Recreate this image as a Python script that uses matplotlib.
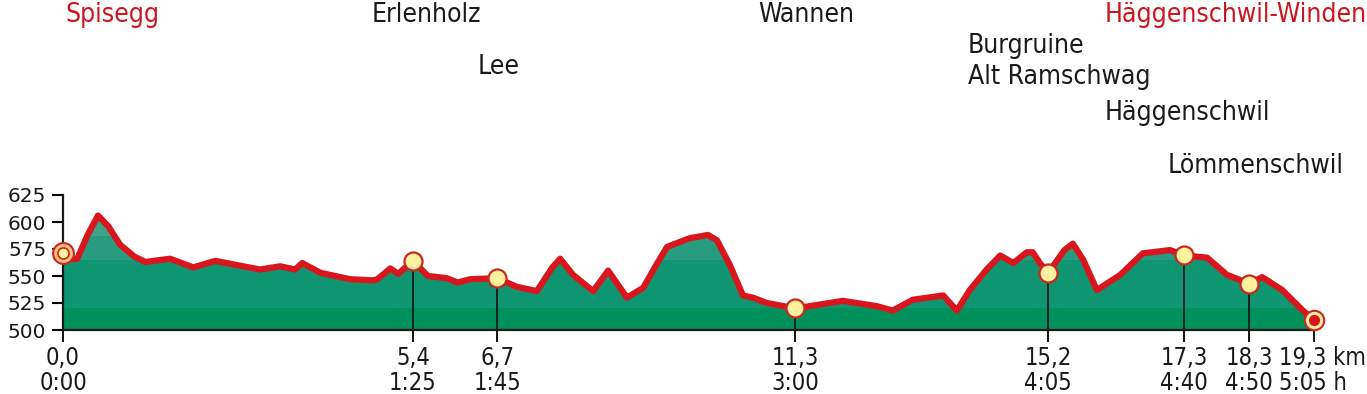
import matplotlib.pyplot as plt
import numpy as np
from matplotlib.patches import Polygon

# elevation profile (km, m)
km = [0.0, 0.22, 0.38, 0.54, 0.7, 0.88, 1.1, 1.27, 1.65, 2.01, 2.35, 3.04, 3.35, 3.58, 3.69, 3.97, 4.43,
      4.78, 4.85, 5.05, 5.17, 5.4, 5.63, 5.92, 6.09, 6.28, 6.7, 7.0, 7.31, 7.55, 7.67, 7.87,
      8.18, 8.41, 8.7, 8.95, 9.15, 9.32, 9.67, 9.95, 10.09, 10.29, 10.49, 10.64, 10.86, 11.3,
      11.72, 12.03, 12.56, 12.8, 13.11, 13.58, 13.79, 13.99, 14.25, 14.46, 14.66, 14.87, 14.96,
      15.07, 15.2, 15.45, 15.58, 15.74, 15.95, 16.31, 16.66, 17.08, 17.3, 17.65, 17.96, 18.3,
      18.5, 18.81, 19.13, 19.3]
elev = [565, 566, 588, 606, 596, 579, 568, 563, 566, 558, 564, 556, 559, 556, 562, 553, 547,
        546, 547, 557, 552, 564, 550, 548, 544, 547, 548, 540, 536, 558, 566, 551,
        536, 555, 530, 539, 560, 577, 585, 588, 583, 560, 532, 530, 525, 520,
        524, 527, 522, 518, 528, 532, 518, 537, 556, 569, 562, 572, 572,
        562, 553, 574, 580, 565, 537, 551, 571, 574, 569, 567, 551, 543,
        549, 537, 518, 509]

# waypoints
wp_km = [0.0, 5.4, 6.7, 11.3, 15.2, 17.3, 18.3, 19.3]
wp_elev = [571, 564, 548, 520, 553, 569, 543, 509]
wp_labels = ['0,0\n0:00', '5,4\n1:25', '6,7\n1:45', '11,3\n3:00', '15,2\n4:05',
             '17,3\n4:40', '18,3\n4:50', '19,3 km\n5:05 h']

yticks = [500, 525, 550, 575, 600, 625]

# place names: (text, x px, top px, colour)
places = [('Spisegg', 65, 2, '#d0141e'), ('Erlenholz', 372, 2, '#1a1a1a'),
          ('Lee', 478, 54, '#1a1a1a'), ('Wannen', 758, 2, '#1a1a1a'),
          ('Häggenschwil-Winden', 1105, 2, '#d0141e'), ('Burgruine', 968, 33, '#1a1a1a'),
          ('Alt Ramschwag', 968, 64, '#1a1a1a'), ('Häggenschwil', 1105, 100, '#1a1a1a'),
          ('Lömmenschwil', 1168, 153, '#1a1a1a')]

W, H = 1367, 394
fonts = ['DejaVu Sans']
cond = 'condensed'
fig = plt.figure(figsize=(W / 100, H / 100), dpi=100)
ax = fig.add_axes([63 / W, 64 / H, 1251 / W, 135 / H])
ax.set_xlim(0, 19.3)
ax.set_ylim(500, 625)

# banded green fill clipped to the profile
poly = Polygon(list(zip(km, elev)) + [(19.3, 500), (0, 500)], closed=True,
               facecolor='none', edgecolor='none')
ax.add_patch(poly)
bands = [(500, 520, '#00905c'), (520, 565, '#0f9670'), (565, 587, '#279c7c'), (587, 625, '#3fa38a')]
for lo, hi, c in bands:
    b = ax.fill_between([0, 19.3], lo, hi, color=c, lw=0)
    b.set_clip_path(poly)

ax.plot(km, elev, color='#d9151e', lw=4.5, solid_capstyle='round', solid_joinstyle='round', zorder=3)

# drop lines
for x, y in zip(wp_km[1:-1], wp_elev[1:-1]):
    ax.plot([x, x], [500, y], color='#1a1a1a', lw=1.3, zorder=2)

ax.plot(wp_km[1:-1], wp_elev[1:-1], 'o', ms=13, mfc='#fff1a0', mec='#c8281e', mew=1.6, zorder=5)
# start marker
ax.plot(wp_km[0], wp_elev[0], 'o', ms=15, mfc='#f9c27e', mec='#c8281e', mew=1.5, zorder=5, clip_on=False)
ax.plot(wp_km[0], wp_elev[0], 'o', ms=8, mfc='#fff1a0', mec='#c8281e', mew=1.2, zorder=6, clip_on=False)
# end marker
ax.plot(wp_km[-1], wp_elev[-1], 'o', ms=14, mfc='#fde9a0', mec='#c8281e', mew=1.5, zorder=5, clip_on=False)
ax.plot(wp_km[-1], wp_elev[-1], 'o', ms=7, mfc='#d7141c', mec='#d7141c', zorder=6, clip_on=False)

for s in ['top', 'right']:
    ax.spines[s].set_visible(False)
for s in ['left', 'bottom']:
    ax.spines[s].set_linewidth(1.6)
    ax.spines[s].set_color('#1a1a1a')

ax.set_yticks(yticks)
ax.set_yticklabels([str(v) for v in yticks], fontfamily=fonts, fontsize=14.5, color='#1a1a1a')
ax.tick_params(axis='y', direction='out', length=8, width=1.5, pad=4)

ax.set_xticks(wp_km)
ax.set_xticklabels(wp_labels[:-1] + [''], fontfamily=fonts, fontstretch=cond, fontsize=17,
                   color='#1a1a1a', linespacing=1.05)
ax.tick_params(axis='x', direction='out', length=8.6, width=1.3, pad=3)
ax.annotate(wp_labels[-1], xy=(19.3, 500), xytext=(-25, -8.6 - 3), textcoords='offset points',
            ha='left', va='top', fontfamily=fonts, fontstretch=cond, fontsize=17,
            color='#1a1a1a', linespacing=1.05, annotation_clip=False)

for name, x, top, c in places:
    fig.text(x / W, 1 - top / H, name, ha='left', va='top', fontfamily=fonts,
             fontstretch=cond, fontsize=19, color=c)

fig.savefig('out.png', dpi=100)
